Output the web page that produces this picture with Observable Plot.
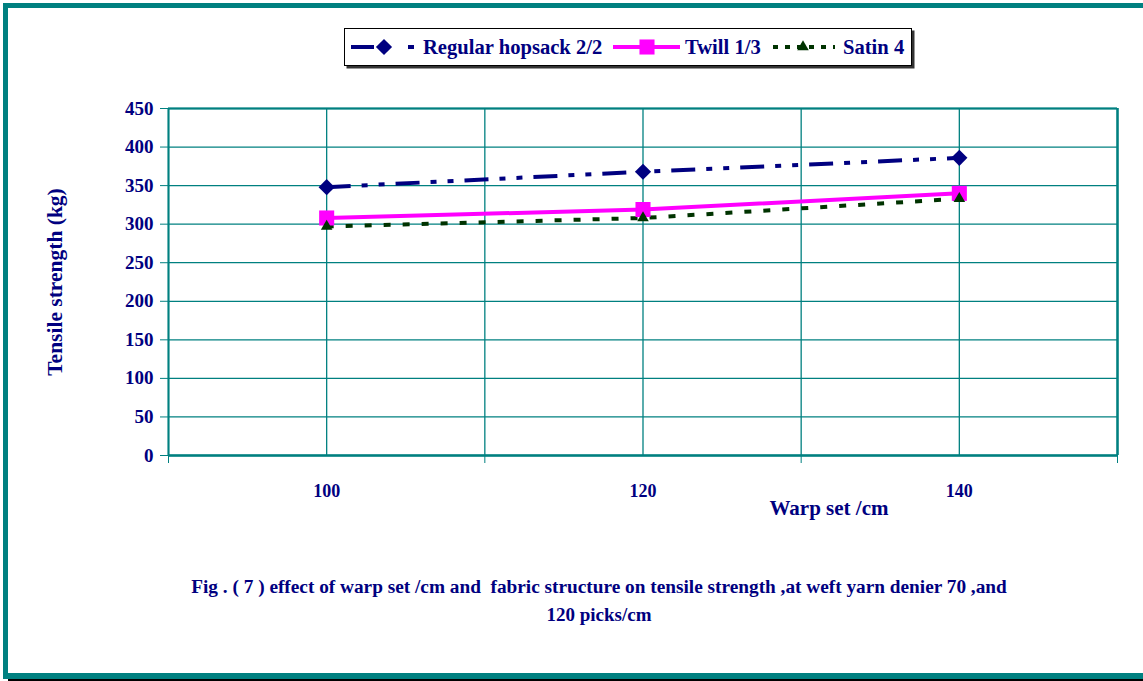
<!DOCTYPE html>
<html><head><meta charset="utf-8">
<script src="https://cdn.jsdelivr.net/npm/d3@7"></script>
<script src="https://cdn.jsdelivr.net/npm/@observablehq/plot@0.6"></script>
<style>
html,body{margin:0;padding:0;background:#fff;}
#page{position:relative;width:1143px;height:681px;overflow:hidden;font-family:"Liberation Serif","Times New Roman",serif;font-weight:bold;color:#000080;background:#fff;}
.bar{position:absolute;background:#008080;}
#chart{position:absolute;left:0;top:0;}
#legend{position:absolute;left:344px;top:28px;}
.cap{position:absolute;left:0;width:1198px;text-align:center;line-height:28px;white-space:pre;}
</style></head>
<body><div id="page">
<div id="chart"></div>
<div id="legend"></div>
<div class="cap" id="cap1" style="top:573px;font-size:19.3px"></div>
<div class="cap" id="cap2" style="top:601px;font-size:19px"></div>
<div class="bar" style="left:3px;top:3px;width:1140px;height:5px"></div>
<div class="bar" style="left:3px;top:3px;width:5px;height:676px"></div>
<div class="bar" style="left:3px;top:673px;width:1140px;height:6px"></div>
<div style="position:absolute;left:8px;top:679px;width:1135px;height:2px;background:#000"></div>
</div>
<script>
// ---- data ----
const warpSet = [100, 120, 140];
const hopsack = [348, 368, 386];
const twill = [308, 319, 340];
const satin = [297, 308, 333];
const seriesNames = ["Regular hopsack 2/2", "Twill 1/3", "Satin 4"];
const yTicks = [0, 50, 100, 150, 200, 250, 300, 350, 400, 450];
const xTickLabels = [100, 120, 140];
const xGrid = [90, 100, 110, 120, 130, 140, 150];
const xTickMarks = [90, 110, 130, 150];
const yTitle = "Tensile strength (kg)";
const xTitle = "Warp set /cm";
const captionLines = ["Fig . ( 7 ) effect of warp set /cm and  fabric structure on tensile strength ,at weft yarn denier 70 ,and", "120 picks/cm"];

// ---- styles ----
const teal = "#008080", navy = "#000080", magenta = "#FF00FF", green = "#003300";
const styles = [
  {stroke: navy, dash: "24,11,6,11,6,11", width: 4, symbol: "diamond2", r: 7.3},
  {stroke: magenta, dash: null, width: 4, symbol: "square", r: 8.5},
  {stroke: green, dash: "7,12", width: 4, symbol: "triangle", r: 4.3}
];
const seriesVals = [hopsack, twill, satin];
const rows = seriesVals.map(vals => warpSet.map((x, i) => ({x, y: vals[i]})));

const marks = [
  Plot.gridX(xGrid, {stroke: teal, strokeOpacity: 1, strokeWidth: 1.3}),
  Plot.gridY(yTicks, {stroke: teal, strokeOpacity: 1, strokeWidth: 1.3}),
  Plot.ruleX([150], {stroke: teal, strokeWidth: 2.5}),
  Plot.ruleX([90], {stroke: teal, strokeWidth: 2}),
  Plot.ruleY([0], {stroke: teal, strokeWidth: 2.5}),
  Plot.ruleY([450], {stroke: teal, strokeWidth: 2}),
  Plot.axisY(yTicks, {tickSize: 8, tickPadding: 7, stroke: teal, fill: navy, fontSize: 19, fontWeight: "bold", label: null}),
  Plot.axisX(xTickMarks, {tickSize: 8, tickFormat: () => "", stroke: teal, label: null}),
  Plot.axisX(xTickLabels, {tickSize: 0, tickPadding: 29, fill: navy, fontSize: 18, fontWeight: "bold", label: null}),
  Plot.text([yTitle], {frameAnchor: "left", textAnchor: "middle", dx: -113, rotate: -90, fill: navy, fontSize: 21.5, fontWeight: "bold"}),
  Plot.text([xTitle], {frameAnchor: "bottom", dx: 186, dy: 59, fill: navy, fontSize: 21, fontWeight: "bold"})
];
rows.forEach((data, k) => {
  const s = styles[k];
  marks.push(Plot.line(data, {x: "x", y: "y", stroke: s.stroke, strokeWidth: s.width, strokeDasharray: s.dash, strokeLinecap: "butt"}));
});
rows.forEach((data, k) => {
  const s = styles[k];
  marks.push(Plot.dot(data, {x: "x", y: "y", symbol: () => s.symbol, r: s.r, fill: s.stroke, stroke: "none"}));
});

const chart = Plot.plot({
  width: 1143, height: 540,
  marginLeft: 168, marginRight: 26, marginTop: 108, marginBottom: 85,
  x: {domain: [90, 150]},
  y: {domain: [0, 450]},
  symbol: {type: "identity"},
  style: {fontFamily: "'Liberation Serif','Times New Roman',serif", fontWeight: "bold", color: navy, background: "transparent", overflow: "visible"},
  marks
});
document.getElementById("chart").appendChild(chart);

// ---- legend ----
const lw = 568, lh = 38;
const leg = d3.select("#legend").append("svg").attr("width", lw + 3).attr("height", lh + 3)
  .style("font-family", "'Liberation Serif','Times New Roman',serif").style("font-weight", "bold");
leg.append("rect").attr("x", 2.5).attr("y", 2.5).attr("width", lw).attr("height", lh).attr("fill", "#333");
leg.append("rect").attr("x", 0.5).attr("y", 0.5).attr("width", lw - 1).attr("height", lh - 1).attr("fill", "#fff").attr("stroke", "#000");
const legItems = [
  {x0: 7, x1: 70, cx: 40, tx: 79, dash: "23,34,6"},
  {x0: 269, x1: 336, cx: 303, tx: 341, dash: null},
  {x0: 429, x1: 491, cx: 459, tx: 499, dash: "5,7"}
];
const symGen = {diamond2: d3.symbolDiamond2, square: d3.symbolSquare, triangle: d3.symbolTriangle};
legItems.forEach((it, k) => {
  const s = styles[k];
  const cy = 19;
  leg.append("line").attr("x1", it.x0).attr("x2", it.x1).attr("y1", cy).attr("y2", cy)
    .attr("stroke", s.stroke).attr("stroke-width", s.width).attr("stroke-dasharray", it.dash);
  const area = Math.PI * s.r * s.r;
  leg.append("path").attr("d", d3.symbol(symGen[s.symbol], area)()).attr("transform", `translate(${it.cx},${cy})`).attr("fill", s.stroke);
  leg.append("text").attr("x", it.tx).attr("y", cy).attr("dy", "0.35em").attr("fill", navy).attr("font-size", 20.6).text(seriesNames[k]);
});

document.getElementById("cap1").textContent = captionLines[0];
document.getElementById("cap2").textContent = captionLines[1];
</script>
</body></html>
